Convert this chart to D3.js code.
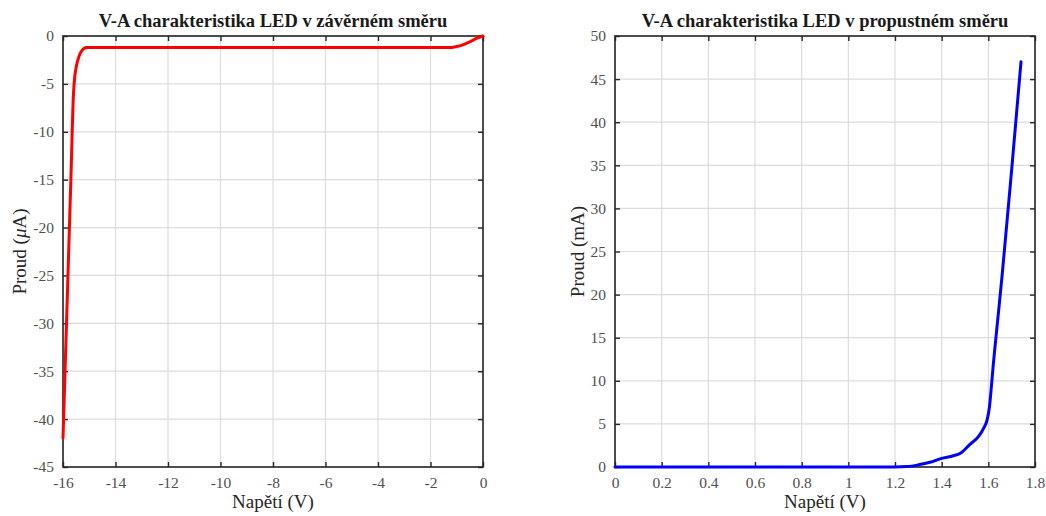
<!DOCTYPE html>
<html>
<head>
<meta charset="utf-8">
<script src="https://cdn.jsdelivr.net/npm/d3@7"></script>
<style>
  body { margin: 0; background: #fff; }
  svg text { font-family: "Liberation Serif", "Times New Roman", serif; }
</style>
</head>
<body>
<svg id="chart" width="1046" height="516"></svg>
<script>
// ---- données ----
// závěrný směr (napětí V, proud µA)
const revU = [-16, -15.9, -15.8, -15.7, -15.6, -15.55, -15.5, -15.4, -15.3, -15.2, -15.1, -15.0, -12, -9, -6, -3, -1.2, -1.0, -0.8, -0.5, -0.2, 0];
const revI = [-42, -33, -24, -15, -6, -4.2, -3.3, -2.2, -1.6, -1.3, -1.2, -1.2, -1.2, -1.2, -1.2, -1.2, -1.2, -1.1, -0.95, -0.6, -0.2, 0];
// propustný směr (napětí V, proud mA)
const fwdU = [0, 0.2, 0.4, 0.6, 0.8, 1.0, 1.2, 1.25, 1.3, 1.35, 1.4, 1.45, 1.48, 1.52, 1.56, 1.58, 1.595, 1.605, 1.612, 1.62, 1.64, 1.66, 1.7, 1.74];
const fwdI = [0, 0, 0, 0, 0, 0, 0, 0.05, 0.25, 0.55, 1.0, 1.3, 1.6, 2.6, 3.6, 4.5, 5.5, 7.0, 9.0, 11.5, 17, 22.5, 34.5, 47];

const revXTicks = d3.range(-16, 1, 2);
const revYTicks = d3.range(-45, 1, 5);
const fwdXTicks = [0, 0.2, 0.4, 0.6, 0.8, 1, 1.2, 1.4, 1.6, 1.8];
const fwdYTicks = d3.range(0, 51, 5);

const svg = d3.select("#chart");

function panel(cfg) {
  const g = svg.append("g");
  const x = d3.scaleLinear().domain(cfg.xDom).range([cfg.left, cfg.left + cfg.w]);
  const y = d3.scaleLinear().domain(cfg.yDom).range([cfg.top + cfg.h, cfg.top]);

  // grille
  g.selectAll(".gx").data(cfg.xTicks).enter().append("line")
    .attr("x1", d => x(d)).attr("x2", d => x(d))
    .attr("y1", cfg.top).attr("y2", cfg.top + cfg.h)
    .attr("stroke", "#dcdcdc").attr("stroke-width", 1.2);
  g.selectAll(".gy").data(cfg.yTicks).enter().append("line")
    .attr("y1", d => y(d)).attr("y2", d => y(d))
    .attr("x1", cfg.left).attr("x2", cfg.left + cfg.w)
    .attr("stroke", "#dcdcdc").attr("stroke-width", 1.2);

  // axes (ticks vers l'intérieur)
  const ax = [
    d3.axisBottom(x).tickValues(cfg.xTicks).tickSizeInner(-5).tickSizeOuter(0).tickPadding(10),
    d3.axisTop(x).tickValues(cfg.xTicks).tickSizeInner(-5).tickSizeOuter(0).tickFormat(""),
    d3.axisLeft(y).tickValues(cfg.yTicks).tickSizeInner(-5).tickSizeOuter(0).tickPadding(9),
    d3.axisRight(y).tickValues(cfg.yTicks).tickSizeInner(-5).tickSizeOuter(0).tickFormat("")
  ];
  const pos = [
    `translate(0,${cfg.top + cfg.h})`, `translate(0,${cfg.top})`,
    `translate(${cfg.left},0)`, `translate(${cfg.left + cfg.w},0)`
  ];
  ax.forEach((a, i) => {
    if (i === 0 || i === 2) a.tickFormat(d => String(d).replace("\u2212", "-"));
    const ga = g.append("g").attr("transform", pos[i]).call(a);
    ga.select(".domain").remove();
    ga.selectAll("line").attr("stroke", "#262626").attr("stroke-width", 1.4);
    ga.selectAll("text").attr("fill", "#505050").style("font-size", "15.5px")
      .style("font-family", "'Liberation Serif', serif");
  });

  // cadre
  g.append("rect").attr("x", cfg.left).attr("y", cfg.top)
    .attr("width", cfg.w).attr("height", cfg.h)
    .attr("fill", "none").attr("stroke", "#262626").attr("stroke-width", 1.6);

  // courbe
  const line = d3.line().x(d => x(d[0])).y(d => y(d[1])).curve(d3.curveMonotoneX);
  g.append("path").datum(d3.zip(cfg.u, cfg.i))
    .attr("d", line).attr("fill", "none")
    .attr("stroke", cfg.color).attr("stroke-width", 3)
    .attr("stroke-linejoin", "round").attr("stroke-linecap", "round");

  // titre
  g.append("text").attr("x", cfg.left + cfg.w / 2).attr("y", cfg.top - 9)
    .attr("text-anchor", "middle").style("font-size", "18.5px").style("font-weight", "bold")
    .attr("fill", "#1a1a1a").text(cfg.title);

  // label x
  g.append("text").attr("x", cfg.left + cfg.w / 2).attr("y", cfg.top + cfg.h + 41)
    .attr("text-anchor", "middle").style("font-size", "19px").attr("fill", "#262626")
    .text("Napětí (V)");

  // label y
  const yl = g.append("text")
    .attr("transform", `translate(${cfg.ylabX},${cfg.top + cfg.h / 2}) rotate(-90)`)
    .attr("text-anchor", "middle").style("font-size", "19px").attr("fill", "#262626");
  yl.append("tspan").text("Proud (");
  if (cfg.unitItalic) {
    yl.append("tspan").style("font-style", "italic").text("μ");
    yl.append("tspan").text("A)");
  } else {
    yl.append("tspan").text(cfg.unit + ")");
  }
}

panel({
  left: 63, top: 36, w: 420, h: 431,
  xDom: [-16, 0], yDom: [-45, 0],
  xTicks: revXTicks, yTicks: revYTicks,
  u: revU, i: revI, color: "#ff0000",
  title: "V-A charakteristika LED v závěrném směru",
  ylabX: 26, unitItalic: true
});

panel({
  left: 615, top: 36, w: 420, h: 431,
  xDom: [0, 1.8], yDom: [0, 50],
  xTicks: fwdXTicks, yTicks: fwdYTicks,
  u: fwdU, i: fwdI, color: "#0000ff",
  title: "V-A charakteristika LED v propustném směru",
  ylabX: 584, unit: "mA"
});
</script>
</body>
</html>
